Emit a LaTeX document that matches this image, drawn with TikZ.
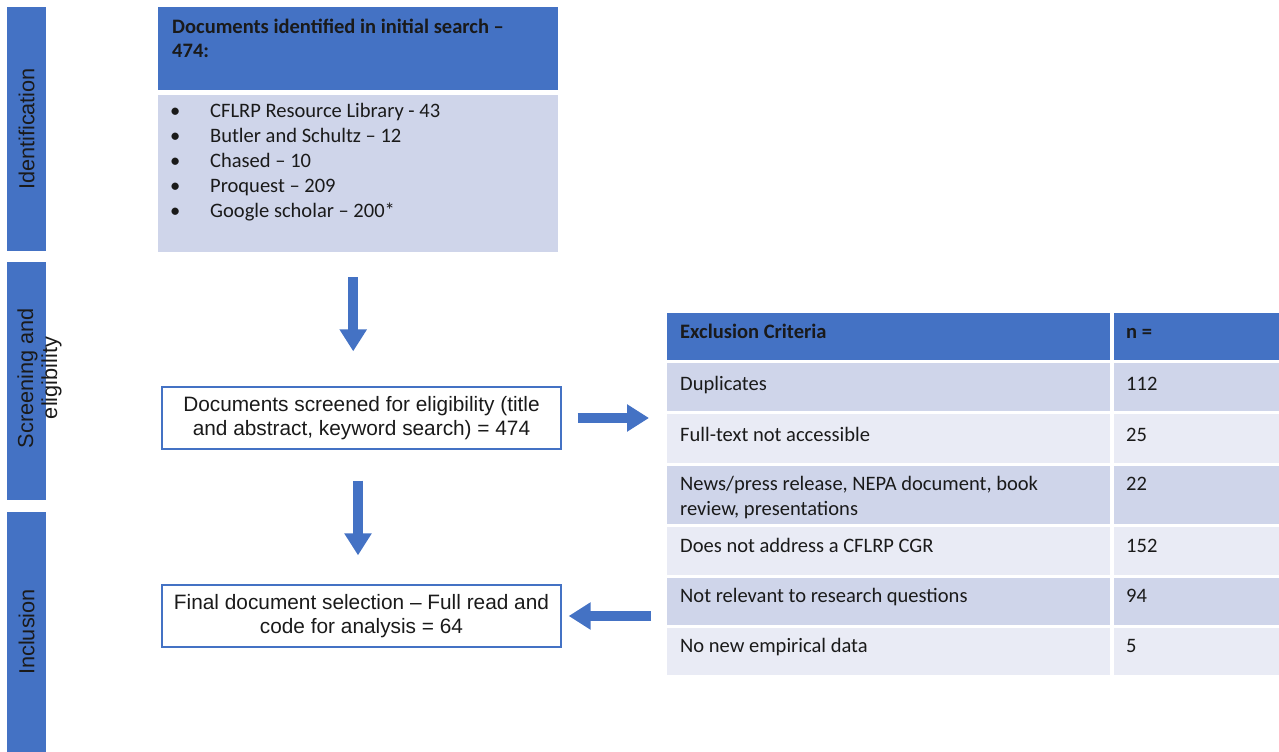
\documentclass[tikz,border=0pt]{standalone}
\usepackage{fontspec}
\setmainfont{Liberation Sans}
\newfontfamily\calfont{Carlito}
\usetikzlibrary{arrows.meta,calc}
\definecolor{hdr}{HTML}{4472C4}
\definecolor{rowdark}{HTML}{CFD5EA}
\definecolor{rowlight}{HTML}{E9EBF5}
\definecolor{ink}{HTML}{1A1A1A}
\tikzset{
  bar/.style={fill=hdr, draw=none, rotate=90, minimum height=39bp, inner sep=0pt},
  barlabel/.style={rotate=90, align=center, text=ink, font=\fontsize{21.8}{24}\selectfont, inner sep=0pt},
  flowbox/.style={draw=hdr, line width=1.3bp, fill=white, minimum width=399bp, minimum height=62bp, align=center, text=ink, font=\fontsize{20.9}{24}\selectfont, inner sep=0pt},
  cell/.style={anchor=north west, draw=none, inner sep=0pt},
  celltext/.style={anchor=north west, inner sep=0pt, align=left, text=ink, font=\calfont\fontsize{20.6}{25}\selectfont},
  celltxt/.style={anchor=base west, inner sep=0pt, text=ink, font=\calfont\fontsize{20.6}{25}\selectfont},
  cellbold/.style={celltxt, font=\calfont\bfseries\fontsize{20.6}{25}\selectfont},
  blockarr/.style={draw=hdr, line width=9.5bp, -{Triangle[width=26bp,length=22bp]}},
}
\begin{document}
\begin{tikzpicture}[x=1bp,y=-1bp]
\useasboundingbox (0,0) rectangle (1279,752);
% left stage bars
\node[bar, minimum width=244bp] (idbar) at (26.5,129) {};
\node[bar, minimum width=238bp] (scbar) at (26.5,381) {};
\node[bar, minimum width=240bp] (inbar) at (26.5,632) {};
\node[barlabel] (idlab) at (idbar.center) {Identification};
\node[barlabel] (sclab) at (39.5,378) {Screening and\\eligibility};
\node[barlabel] (inlab) at (26.5,632) {Inclusion};
% identification boxes
\node[cell, fill=hdr, minimum width=400bp, minimum height=83bp] (head) at (158,7) {};
\node[celltext, font=\calfont\bfseries\fontsize{20.6}{24}\selectfont] (headtxt) at (172,19) {Documents identified in initial search –\\474:};
\node[cell, fill=rowdark, minimum width=400bp, minimum height=157bp] (list) at (158,95) {};
\node[celltext] (listtxt) at (170,103) {\makebox[40bp][l]{•}CFLRP Resource Library - 43\\
\makebox[40bp][l]{•}Butler and Schultz – 12\\
\makebox[40bp][l]{•}Chased – 10\\
\makebox[40bp][l]{•}Proquest – 209\\
\makebox[40bp][l]{•}Google scholar – 200*};
% flow boxes
\node[flowbox] (screen) at (361.5,418) {Documents screened for eligibility (title\\and abstract, keyword search) = 474};
\node[flowbox] (final) at (361.5,616) {Final document selection – Full read and\\code for analysis = 64};
% exclusion table
\node[cell, fill=hdr, minimum width=443bp, minimum height=47bp] (h1) at (667,313) {};
\node[cell, fill=hdr, minimum width=165bp, minimum height=47bp] (h2) at (1114,313) {};
\node[cell, fill=rowdark, minimum width=443bp, minimum height=48bp] (r1a) at (667,363) {};
\node[cell, fill=rowdark, minimum width=165bp, minimum height=48bp] (r1b) at (1114,363) {};
\node[cell, fill=rowlight, minimum width=443bp, minimum height=49bp] (r2a) at (667,414) {};
\node[cell, fill=rowlight, minimum width=165bp, minimum height=49bp] (r2b) at (1114,414) {};
\node[cell, fill=rowdark, minimum width=443bp, minimum height=58bp] (r3a) at (667,466) {};
\node[cell, fill=rowdark, minimum width=165bp, minimum height=58bp] (r3b) at (1114,466) {};
\node[cell, fill=rowlight, minimum width=443bp, minimum height=48bp] (r4a) at (667,527) {};
\node[cell, fill=rowlight, minimum width=165bp, minimum height=48bp] (r4b) at (1114,527) {};
\node[cell, fill=rowdark, minimum width=443bp, minimum height=47bp] (r5a) at (667,578) {};
\node[cell, fill=rowdark, minimum width=165bp, minimum height=47bp] (r5b) at (1114,578) {};
\node[cell, fill=rowlight, minimum width=443bp, minimum height=47bp] (r6a) at (667,628) {};
\node[cell, fill=rowlight, minimum width=165bp, minimum height=47bp] (r6b) at (1114,628) {};
\node[cellbold] at (680,338) {Exclusion Criteria};
\node[cellbold] at (1126,338) {n =};
\node[celltxt] at (680,390) {Duplicates};
\node[celltxt] at (1126,390) {112};
\node[celltxt] at (680,441) {Full-text not accessible};
\node[celltxt] at (1126,441) {25};
\node[celltext] at (680,476) {News/press release, NEPA document, book\\review, presentations};
\node[celltxt] at (1126,490) {22};
\node[celltxt] at (680,552) {Does not address a CFLRP CGR};
\node[celltxt] at (1126,552) {152};
\node[celltxt] at (680,602) {Not relevant to research questions};
\node[celltxt] at (1126,602) {94};
\node[celltxt] at (680,652) {No new empirical data};
\node[celltxt] at (1126,652) {5};
% connectors
\coordinate (tabin) at (r1a.west |- final.east);
\draw[blockarr, shorten <=25bp, shorten >=35bp] ([xshift=-5bp]list.south) -- ([xshift=-5bp]list.south |- screen.north);
\draw[blockarr, shorten <=31bp, shorten >=29bp] ([xshift=-3.5bp]screen.south) -- ([xshift=-3.5bp]final.north);
\draw[blockarr, shorten <=16bp, shorten >=18bp] (screen.east) -- (screen.east -| r1a.west);
\draw[blockarr, shorten <=16bp, shorten >=7bp] (tabin) -- (final.east);
\end{tikzpicture}
\end{document}
